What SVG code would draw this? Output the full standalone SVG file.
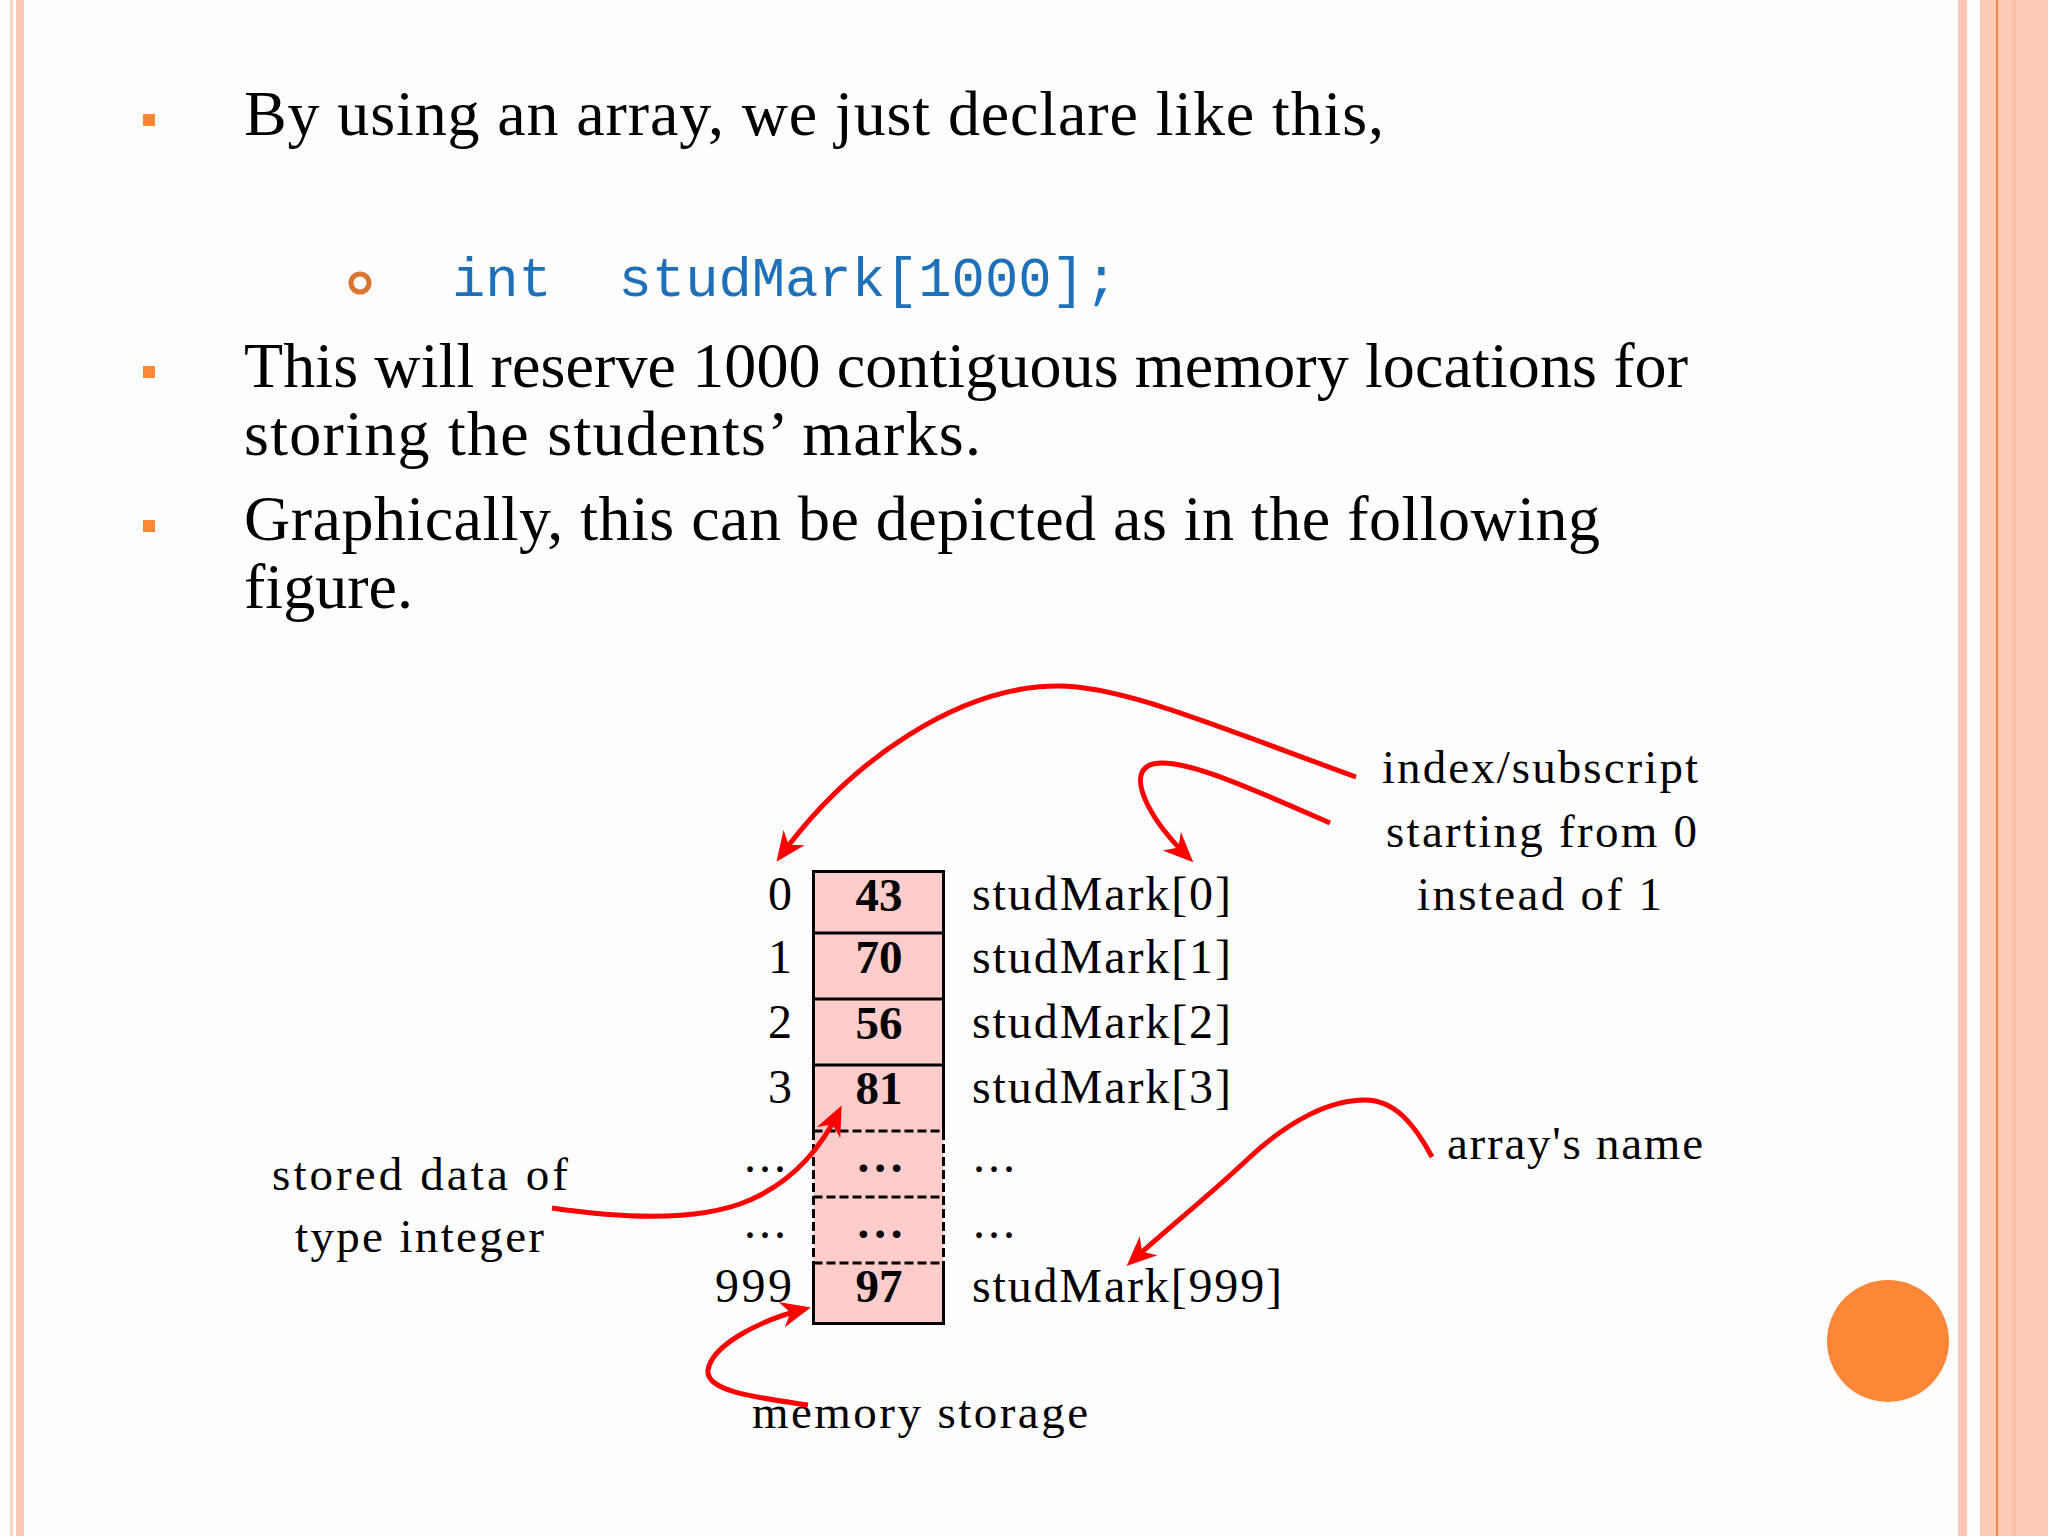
<svg xmlns="http://www.w3.org/2000/svg" width="2048" height="1536" viewBox="0 0 2048 1536">
<style>
.body{font-family:"Liberation Serif","Times New Roman",serif;font-size:64px;fill:#000}
.code{font-family:"Liberation Mono","Courier New",monospace;font-size:55.5px;fill:#1e70b8}
.lab{font-family:"Liberation Serif","Times New Roman",serif;font-size:48px;fill:#000}
.val{font-family:"Liberation Serif","Times New Roman",serif;font-size:47px;font-weight:bold;fill:#000;text-anchor:middle}
.ann{font-family:"Liberation Serif","Times New Roman",serif;font-size:47px;fill:#000}
.bul{fill:#fd8637}
.solid{stroke:#000;stroke-width:3;fill:none}
.dash{stroke:#000;stroke-width:3;fill:none;stroke-dasharray:9 4}
.arr{stroke:#ff0000;stroke-width:5;fill:none;marker-end:url(#ah)}
</style>
<defs>
<marker id="ah" viewBox="-32 -15 34 30" markerWidth="34" markerHeight="30" refX="-6" refY="0" orient="auto" markerUnits="userSpaceOnUse">
<path d="M0,0 L-30,-13 L-21,0 L-30,13 Z" fill="#ff0000"/>
</marker>
</defs>
<rect width="2048" height="1536" fill="#fefefe"/>
<g id="frame">
<rect x="10" y="0" width="3" height="1536" fill="#fcd3c3"/>
<rect x="16" y="0" width="8" height="1536" fill="#fcc8b4"/>
<rect x="1958" y="0" width="9" height="1536" fill="#fcc8b4"/>
<rect x="1980" y="0" width="68" height="1536" fill="#fdcab6"/>
<rect x="2012" y="0" width="4" height="1536" fill="#fbbfa8"/>
<rect x="1996" y="0" width="2" height="1536" fill="#f0884c"/>
<circle cx="1888" cy="1341" r="61" fill="#fd8637"/>
</g>
<g id="text-bullets">
<rect class="bul" x="143" y="114" width="12" height="12"/>
<text class="body" x="244" y="135" textLength="1140">By using an array, we just declare like this,</text>
<circle cx="360" cy="283" r="9" fill="none" stroke="#dc7434" stroke-width="5"/>
<text class="code" x="452" y="296" xml:space="preserve">int  studMark[1000];</text>
<rect class="bul" x="143" y="366" width="12" height="12"/>
<text class="body" x="244" y="387" textLength="1444">This will reserve 1000 contiguous memory locations for</text>
<text class="body" x="244" y="455" textLength="737">storing the students’ marks.</text>
<rect class="bul" x="143" y="520" width="12" height="12"/>
<text class="body" x="244" y="540" textLength="1356">Graphically, this can be depicted as in the following</text>
<text class="body" x="244" y="608" textLength="169">figure.</text>
</g>
<g id="array-table">
<rect x="813.5" y="871.5" width="130" height="452" fill="#ffcccc"/>
<path class="solid" d="M813.5,1131 V871.5 H943.5 V1131 M813.5,1263 V1323.5 H943.5 V1263 M813.5,933 H943.5 M813.5,999 H943.5 M813.5,1065 H943.5"/>
<path class="dash" d="M813.5,1131 V1263 M943.5,1131 V1263 M813.5,1131 H943.5 M813.5,1197 H943.5 M813.5,1263 H943.5"/>
<text class="val" x="879" y="911">43</text>
<text class="val" x="879" y="973">70</text>
<text class="val" x="879" y="1039">56</text>
<text class="val" x="879" y="1104">81</text>
<text class="val" x="880" y="1172" textLength="45">...</text>
<text class="val" x="880" y="1238" textLength="45">...</text>
<text class="val" x="879" y="1302">97</text>
</g>
<g id="index-labels">
<text class="lab" x="792" y="910" text-anchor="end">0</text>
<text class="lab" x="792" y="973" text-anchor="end">1</text>
<text class="lab" x="792" y="1038" text-anchor="end">2</text>
<text class="lab" x="792" y="1103" text-anchor="end">3</text>
<text class="lab" x="744" y="1172" textLength="42">...</text>
<text class="lab" x="744" y="1238" textLength="42">...</text>
<text class="lab" x="792" y="1302" text-anchor="end" textLength="77">999</text>
</g>
<g id="name-labels">
<text class="lab" x="972" y="910" textLength="259">studMark[0]</text>
<text class="lab" x="972" y="973" textLength="259">studMark[1]</text>
<text class="lab" x="972" y="1038" textLength="259">studMark[2]</text>
<text class="lab" x="972" y="1103" textLength="259">studMark[3]</text>
<text class="lab" x="973" y="1172" textLength="42">...</text>
<text class="lab" x="973" y="1238" textLength="42">...</text>
<text class="lab" x="972" y="1302" textLength="310">studMark[999]</text>
</g>
<g id="annotation-index">
<text class="ann" x="1382" y="783" textLength="316">index/subscript</text>
<text class="ann" x="1386" y="847" textLength="311">starting from 0</text>
<text class="ann" x="1417" y="910" textLength="245">instead of 1</text>
</g>
<g id="annotation-name">
<text class="ann" x="1447" y="1159" textLength="256">array's name</text>
</g>
<g id="annotation-data">
<text class="ann" x="272" y="1190" textLength="296">stored data of</text>
<text class="ann" x="295" y="1252" textLength="249">type integer</text>
</g>
<g id="annotation-memory">
<text class="ann" x="752" y="1428" textLength="336">memory storage</text>
</g>
<g id="connectors">
<path class="arr" d="M1356,777 C1200,720 1120,686 1058,686 C960,686 850,760 780,857"/>
<path class="arr" d="M1330,823 C1250,788 1172,752 1148,766 C1130,776 1145,815 1189,858"/>
<path class="arr" d="M552,1208 C620,1218 700,1222 750,1200 C800,1178 825,1140 839,1111"/>
<path class="arr" d="M1432,1157 C1415,1125 1395,1100 1365,1100 C1330,1100 1290,1120 1250,1157 C1210,1195 1160,1235 1131,1262"/>
<path class="arr" d="M808,1405 C760,1398 705,1392 708,1370 C712,1345 760,1320 805,1309"/>
</g>
</svg>
